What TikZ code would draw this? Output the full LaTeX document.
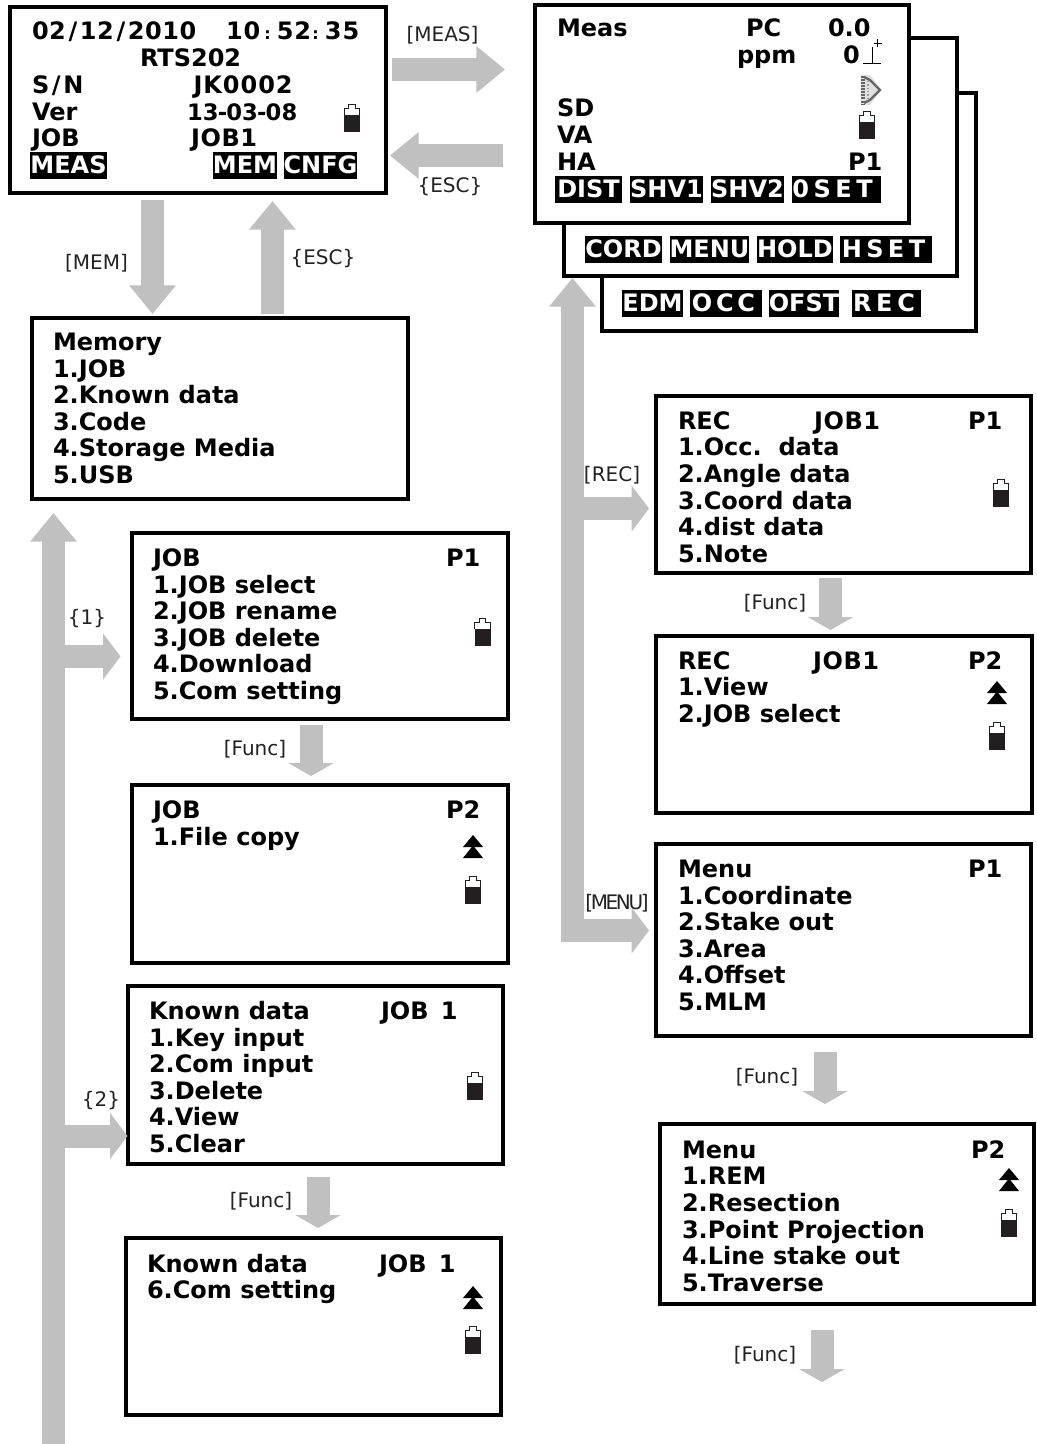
\documentclass[tikz,border=0pt]{standalone}
\usepackage{fontspec}
\setmainfont{DejaVu Sans}
\newfontfamily\condfont[LetterSpace=-12]{DejaVu Sans}
\usetikzlibrary{arrows.meta}
\definecolor{arrowgray}{HTML}{C0C0C0}
\definecolor{batt}{HTML}{231F20}
\definecolor{lbl}{HTML}{222222}
\tikzset{
  px/.style={x=0.75pt,y=-0.75pt},
  screen/.style={draw=black,line width=3pt,fill=white,inner sep=0pt,outer sep=0pt,anchor=north west},
  lcd/.style={anchor=base west,inner sep=0pt,outer sep=0pt,text=black,font=\fontsize{18pt}{20pt}\selectfont\bfseries},
  softkey/.style={fill=black,text=white,inner sep=0pt,outer sep=0pt,text height=13.1pt,text depth=1.5pt,font=\fontsize{18pt}{20pt}\selectfont\bfseries},
  lab/.style={inner sep=0pt,outer sep=0pt,text=lbl,font=\fontsize{15pt}{16pt}\selectfont},
  blockbig/.style={draw=arrowgray,line width=17.25pt,-{Triangle[length=21.5pt,width=33.75pt,sep=0pt]}},
  blocksmall/.style={draw=arrowgray,line width=17.25pt,-{Triangle[length=9.75pt,width=33.75pt,sep=0pt]}},
  blockbranch/.style={draw=arrowgray,line width=17.25pt,-{Triangle[length=13pt,width=33.75pt,sep=0pt]}},
}
\newcommand{\Scr}[5]{\node[screen,minimum width={(#4-#2)*0.75pt},minimum height={(#5-#3)*0.75pt}] (#1) at (#2,#3) {};}
\newcommand{\Txt}[4]{\node[lcd] (#1) at (#2,#3) {#4};}
\newcommand{\Key}[6]{\node[softkey,minimum width={(#3-#2)*0.75pt},minimum height={(#5-#4)*0.75pt}] (#1) at ({(#2+#3)/2},{(#4+#5)/2}) {#6};}
\newcommand{\Lab}[4]{\node[lab] (#1) at (#2,#3) {#4};}
\newcommand{\Batt}[2]{\begin{scope}[shift={(#1,#2)}]
  \fill[batt] (-8,11) rectangle (8,28);
  \draw[batt,line width=0.7pt] (-7.6,11) -- (-7.6,4.5) -- (-3.2,4.5) -- (-3.2,0.5) -- (3.2,0.5) -- (3.2,4.5) -- (7.6,4.5) -- (7.6,11);
\end{scope}}
\newcommand{\DblUp}[2]{\begin{scope}[shift={(#1,#2)}]
  \fill[black] (0,0) -- (10,12) -- (-10,12) -- cycle;
  \fill[black] (0,10.5) -- (10,23) -- (-10,23) -- cycle;
\end{scope}}
\newcommand{\slsh}{\kern2pt/\kern2pt}
\newcommand{\hy}{\kern-0.6pt-\kern-0.6pt}
\newcommand{\wide}[2]{{\addfontfeature{LetterSpace=#1}#2}}
\newcommand{\smc}{\fontsize{12pt}{12pt}\selectfont}
\begin{document}
\begin{tikzpicture}[px]
\useasboundingbox (0,0) rectangle (1036,1444);
\fill[white] (0,0) rectangle (1036,1444);

% stacked screens
\Scr{sC}{602}{93}{976}{331}
\Scr{sB}{564}{38}{957}{276}
\Scr{sA}{535}{5}{909}{223}
\Scr{sMain}{10}{7}{386}{193}
\Scr{sMem}{32}{318}{408}{499}
\Scr{sJobA}{132}{533}{508}{719}
\Scr{sJobB}{132}{785}{508}{963}
\Scr{sKnA}{128}{986}{503}{1164}
\Scr{sKnB}{126}{1238}{501}{1415}
\Scr{sRecA}{656}{396}{1031}{573}
\Scr{sRecB}{656}{636}{1032}{813}
\Scr{sMenA}{656}{844}{1031}{1036}
\Scr{sMenB}{660}{1124}{1034}{1304}

% named free ends of block arrows
\coordinate (mS) at (392,69.5); \coordinate (mE) at (505,69.5);
\coordinate (eS) at (503,155.5); \coordinate (eE) at (390,155.5);
\coordinate (dS) at (152.5,200.5); \coordinate (dE) at (152.5,314);
\coordinate (uS) at (272.5,314); \coordinate (uE) at (272.5,201);
\coordinate (lS) at (53.5,1444); \coordinate (lE) at (53.5,513);
\coordinate (b1S) at (53.5,656.5); \coordinate (b1E) at (120.5,656.5);
\coordinate (b2S) at (53.5,1136); \coordinate (b2E) at (127.5,1136);
\coordinate (rS) at (572.5,942); \coordinate (rE) at (572.5,278);
\coordinate (b3S) at (572.5,508.5); \coordinate (b3E) at (649,508.5);
\coordinate (b4S) at (572.5,930.5); \coordinate (b4E) at (649,930.5);
\coordinate (f1S) at (311,725); \coordinate (f1E) at (311,776);
\coordinate (f2S) at (318,1177); \coordinate (f2E) at (318,1228);
\coordinate (f3S) at (830.5,578); \coordinate (f3E) at (830.5,630);
\coordinate (f4S) at (825,1052); \coordinate (f4E) at (825,1104);
\coordinate (f5S) at (822,1330); \coordinate (f5E) at (822,1382);

\draw[blockbig] (mS) -- (mE);
\draw[blockbig] (eS) -- (eE);
\draw[blockbig] (dS) -- (dE);
\draw[blockbig] (uS) -- (uE);
\draw[blockbig] (lS) -- (lE);
\draw[blockbranch] (b1S) -- (b1E);
\draw[blockbranch] (b2S) -- (b2E);
\draw[blockbig] (rS) -- (rE);
\draw[blockbranch] (b3S) -- (b3E);
\draw[blockbranch] (b4S) -- (b4E);
\draw[blocksmall] (f1S) -- (f1E);
\draw[blocksmall] (f2S) -- (f2E);
\draw[blocksmall] (f3S) -- (f3E);
\draw[blocksmall] (f4S) -- (f4E);
\draw[blocksmall] (f5S) -- (f5E);

% labels
\Lab{lMeas}{442.5}{35}{[MEAS]}
\Lab{lEsc1}{450}{187}{\{ESC\}}
\Lab{lMem}{96.5}{263}{[MEM]}
\Lab{lEsc2}{323}{259}{\{ESC\}}
\Lab{lOne}{87}{619}{\{1\}}
\Lab{lTwo}{101}{1101}{\{2\}}
\Lab{lRec}{612}{475}{[REC]}
\node[lab] (lMenu) at (617,903) {\condfont [MENU]};
\Lab{lF1}{255}{749}{[Func]}
\Lab{lF2}{261}{1201}{[Func]}
\Lab{lF3}{775}{603}{[Func]}
\Lab{lF4}{767}{1077}{[Func]}
\Lab{lF5}{765}{1355}{[Func]}

% main screen
\Txt{a1}{32}{40}{\wide{2}{02\slsh12\slsh2010}}
\Txt{a1b}{226}{40}{\wide{4}{10\kern3pt{\smc:}\kern4.5pt52\kern1pt{\smc:}\kern4.5pt35}}
\Txt{a2}{140}{66.5}{RTS202}
\Txt{a3}{32}{93.5}{S\slsh N}
\Txt{a3b}{193.5}{93.5}{\wide{4}{JK0002}}
\Txt{a4}{32}{120.5}{Ver}
\Txt{a4b}{187}{120.5}{\fontsize{17pt}{20pt}\selectfont 13\hy 03\hy 08}
\Txt{a5}{32}{146.5}{JOB}
\Txt{a5b}{191}{146.5}{\wide{2.5}{JOB1}}
\Key{k1}{31}{106}{152}{179}{MEAS}
\Key{k2}{214}{276}{152}{179}{MEM}
\Key{k3}{284}{357}{152}{179}{CNFG}
\Batt{352}{104}

% Meas screen
\Txt{b1}{557}{37}{Meas}
\Txt{b1b}{746}{37}{PC}
\Txt{b1c}{828}{37}{0.0}
\Txt{b2}{737}{63.5}{ppm}
\Txt{b2b}{843}{63.5}{0}
\Txt{b3}{557}{117}{SD}
\Txt{b4}{557}{144}{VA}
\Txt{b5}{557}{170.7}{HA}
\Txt{b5b}{848}{170.7}{P1}
\Key{k4}{555}{622}{176}{203}{DIST}
\Key{k5}{630}{703}{176}{203}{SHV1}
\Key{k6}{711}{784}{176}{203}{SHV2}
\Key{k7}{792}{881}{176}{203}{0\kern3.4pt S\kern3.4pt E\kern3.4pt T\kern6pt}
\Key{k8}{585}{662}{236}{263}{CORD}
\Key{k9}{670}{749}{236}{263}{MENU}
\Key{k10}{757}{833}{236}{263}{HOLD}
\Key{k11}{840}{932}{236}{263}{H\kern3.3pt S\kern3.3pt E\kern3.3pt T\kern3.75pt}
\Key{k12}{623}{682}{290}{317}{EDM}
\Key{k13}{690}{762}{290}{317}{O\kern2.8pt C\kern2.8pt C\kern3.75pt}
\Key{k14}{769}{839}{290}{317}{OFST}
\Key{k15}{852}{921}{290}{317}{R\kern3.5pt E\kern3.5pt C\kern3.75pt}
\Batt{867}{111}
% tilt symbol
\draw[black,line width=0.6pt] (863,63) -- (881,63) (872.5,63) -- (872.5,47) (873.5,43.5) -- (881.5,43.5) (877.5,39.5) -- (877.5,47.5);
% signal symbol
\fill[black!12] (860.5,75) -- (870,75) -- (881,90) -- (870,105) -- (860.5,105) -- cycle;
\draw[black!60,line width=1.7pt] (864,77) -- (870,80) -- (880,90) -- (870,100) -- (864,103);
\draw[black!60,line width=2.4pt,dash pattern=on 1.5pt off 0.8pt] (863,76) -- (863,104);
\draw[black!40,line width=1.8pt,dash pattern=on 1pt off 1.5pt] (868,81) -- (868,99);

% Memory
\Txt{c1}{53}{350.5}{Memory}
\Txt{c2}{53}{377}{1.JOB}
\Txt{c3}{53}{403.5}{2.Known data}
\Txt{c4}{53}{430}{3.Code}
\Txt{c5}{53}{456.5}{4.Storage Media}
\Txt{c6}{53}{483}{5.USB}

% JOB P1
\Txt{d1}{153}{566}{JOB}
\Txt{d1b}{446}{566}{P1}
\Txt{d2}{153}{593}{1.JOB select}
\Txt{d3}{153}{619.5}{2.JOB rename}
\Txt{d4}{153}{646}{3.JOB delete}
\Txt{d5}{153}{672.5}{4.Download}
\Txt{d6}{153}{699}{5.Com setting}
\Batt{482.5}{618}

% JOB P2
\Txt{e1}{153}{818}{JOB}
\Txt{e1b}{446}{818}{P2}
\Txt{e2}{153}{845}{1.File copy}
\DblUp{473}{835}
\Batt{473}{876}

% Known data 1
\Txt{f1}{149}{1019}{Known data}
\Txt{f1b}{381}{1019}{JOB\kern3pt\ 1}
\Txt{f2}{149}{1046}{1.Key input}
\Txt{f3}{149}{1072.5}{2.Com input}
\Txt{f4}{149}{1099}{3.Delete}
\Txt{f5}{149}{1125.5}{4.View}
\Txt{f6}{149}{1152}{5.Clear}
\Batt{475}{1072}

% Known data 2
\Txt{g1}{147}{1272}{Known data}
\Txt{g1b}{379}{1272}{JOB\kern3pt\ 1}
\Txt{g2}{147}{1298.5}{6.Com setting}
\DblUp{473}{1286}
\Batt{473}{1326}

% REC P1
\Txt{h1}{678}{429}{REC}
\Txt{h1b}{814}{429}{\wide{2.5}{JOB1}}
\Txt{h1c}{968}{429}{P1}
\Txt{h2}{678}{455.5}{1.Occ.\ \ data}
\Txt{h3}{678}{482}{2.Angle data}
\Txt{h4}{678}{509}{3.Coord data}
\Txt{h5}{678}{535.5}{4.dist data}
\Txt{h6}{678}{562}{5.Note}
\Batt{1001}{479}

% REC P2
\Txt{i1}{678}{669}{REC}
\Txt{i1b}{813}{669}{\wide{2.5}{JOB1}}
\Txt{i1c}{968}{669}{P2}
\Txt{i2}{678}{695.5}{1.View}
\Txt{i3}{678}{722}{2.JOB select}
\DblUp{997}{681}
\Batt{997}{722}

% Menu P1
\Txt{j1}{678}{877}{Menu}
\Txt{j1b}{968}{877}{P1}
\Txt{j2}{678}{904}{1.Coordinate}
\Txt{j3}{678}{930.5}{2.Stake out}
\Txt{j4}{678}{957}{3.Area}
\Txt{j5}{678}{983.5}{4.Offset}
\Txt{j6}{678}{1010}{5.MLM}

% Menu P2
\Txt{m1}{682}{1158}{Menu}
\Txt{m1b}{971}{1158}{P2}
\Txt{m2}{682}{1184.5}{1.REM}
\Txt{m3}{682}{1211}{2.Resection}
\Txt{m4}{682}{1238}{3.Point Projection}
\Txt{m5}{682}{1264.5}{4.Line stake out}
\Txt{m6}{682}{1291}{5.Traverse}
\DblUp{1009}{1168}
\Batt{1009}{1209}
\end{tikzpicture}
\end{document}
